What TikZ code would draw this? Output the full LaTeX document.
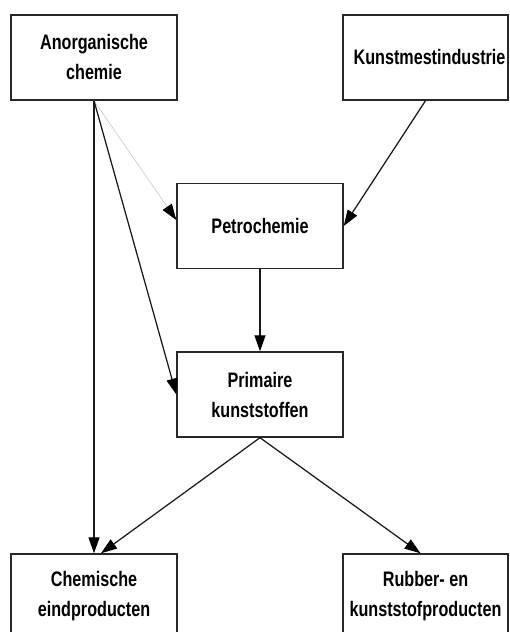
\documentclass[tikz,border=0pt]{standalone}
\usepackage{fontspec}
\usepackage{xcolor}
\usepackage{tikz}
\usetikzlibrary{arrows.meta, calc}
\newfontfamily\blokfont{Liberation Sans}[FakeStretch=0.77]
\definecolor{lijngrijs}{RGB}{40, 40, 40}

\begin{document}
\begin{tikzpicture}[x=1pt, y=1pt,
        blok/.style={draw=lijngrijs, line width=1.4pt, minimum width=166pt, minimum height=85pt, inner sep=0pt, align=center, font=\blokfont\bfseries\fontsize{21}{30}\selectfont, text=black},
        pijl/.style={line width=1.25pt, draw=black!90, -{Triangle[length=16pt, width=11pt, color=black]}},
        dun/.style={line width=0.5pt, draw=black!25, -{Triangle[length=16pt, width=11pt, color=black]}}]
        \useasboundingbox (0,0) rectangle (509,632);
        \node[blok] (anorg) at (94,574.5) {Anorganische\\chemie};
        \node[blok, minimum width=165pt] (kunst) at (425.5,574.5) {\hspace*{8pt}Kunstmestindustrie};
        \node[blok] (petro) at (260,406) {Petrochemie};
        \node[blok] (prim) at (260,237.5) {Primaire\\kunststoffen};
        \node[blok] (chem) at (94,35.5) {Chemische\\eindproducten};
        \node[blok, minimum width=165pt] (rubber) at (425.5,35.5) {Rubber- en\\kunststofproducten};
        \draw[pijl] (anorg.south) -- (chem.north);
        \draw[dun] (anorg.south) -- ([yshift=6pt]petro.west);
        \draw[pijl] (anorg.south) -- (prim.west);
        \draw[pijl] (kunst.south) -- (petro.east);
        \draw[pijl] (petro.south) -- (prim.north);
        \draw[pijl] (prim.south) -- ([xshift=7pt]chem.north);
        \draw[pijl] (prim.south) -- ([xshift=-5pt]rubber.north);
    \end{tikzpicture}
\end{document}
